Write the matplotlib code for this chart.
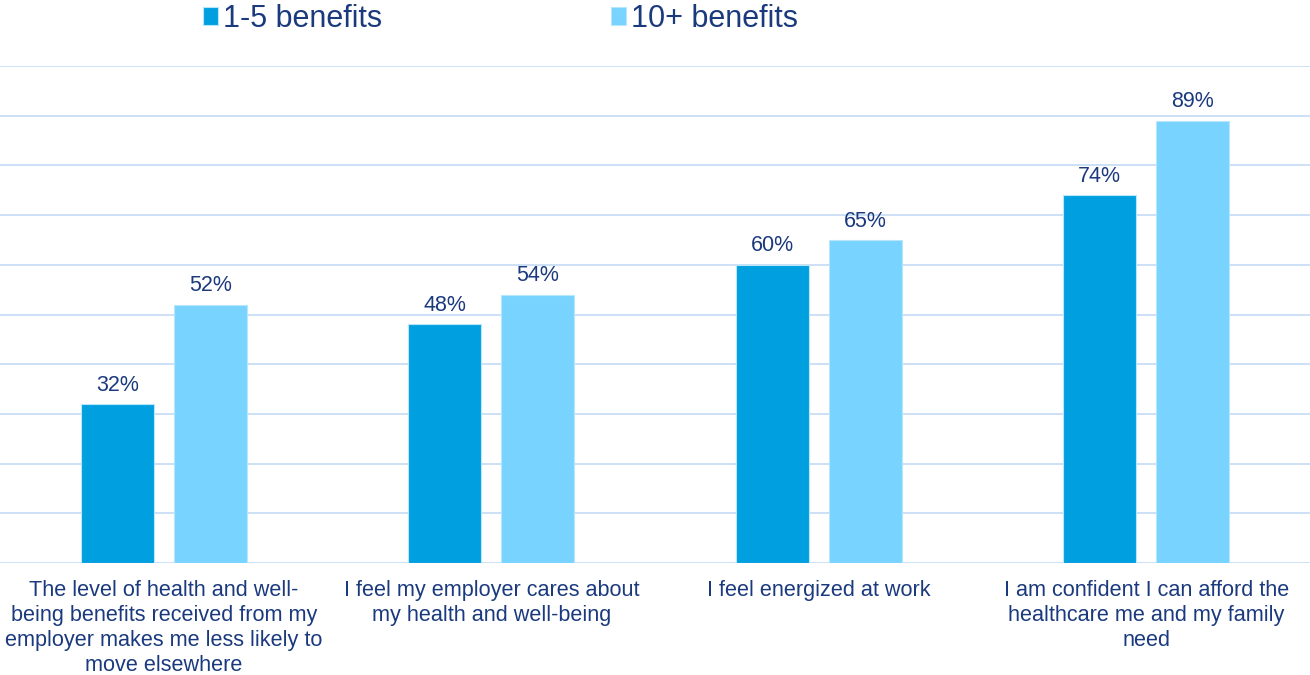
import matplotlib
matplotlib.use("Agg")
import matplotlib.pyplot as plt
import numpy as np

categories = [
    "The level of health and well-\nbeing benefits received from my\nemployer makes me less likely to\nmove elsewhere",
    "I feel my employer cares about\nmy health and well-being",
    "I feel energized at work",
    "I am confident I can afford the\nhealthcare me and my family\nneed",
]
series_names = ["1-5 benefits", "10+ benefits"]
low_benefits = [32, 48, 60, 74]
high_benefits = [52, 54, 65, 89]
value_labels_low = ["32%", "48%", "60%", "74%"]
value_labels_high = ["52%", "54%", "65%", "89%"]

plt.rcParams["font.family"] = ["Liberation Sans", "DejaVu Sans"]
text_color = "#1B3A7E"
colors = ["#009FE0", "#78D3FF"]
grid_color = "#C9DDF5"

fig = plt.figure(figsize=(13.10, 6.75), dpi=100)
ax = fig.add_axes([0.0, (675 - 563) / 675, 1.0, (563 - 66) / 675])

x = np.arange(len(categories))
width = 0.223
offset = 0.142

bars1 = ax.bar(x - offset, low_benefits, width, color=colors[0],
               edgecolor="#B8E6FA", linewidth=0.8, label=series_names[0], zorder=3)
bars2 = ax.bar(x + offset, high_benefits, width, color=colors[1],
               edgecolor="#B8E6FA", linewidth=0.8, label=series_names[1], zorder=3)

for bars, labels in ((bars1, value_labels_low), (bars2, value_labels_high)):
    ax.bar_label(bars, labels=labels, padding=6, fontsize=15.5, color=text_color)

ax.set_xlim(-0.5, len(categories) - 0.5)
ax.set_ylim(0, 100)
ax.set_yticks(np.arange(0, 101, 10))
ax.yaxis.grid(True, color=grid_color, linewidth=1.3, zorder=0)
ax.set_axisbelow(True)
ax.tick_params(axis="y", left=False, labelleft=False)
ax.tick_params(axis="x", bottom=False, pad=8.5)
ax.set_xticks(x)
ax.set_xticklabels(categories, fontsize=15.6, color=text_color, linespacing=1.26, va="top")
for s in ax.spines.values():
    s.set_visible(False)

# legend along the top
fig.legend(handles=[bars1, bars2], labels=series_names, loc="upper left",
           bbox_to_anchor=(0.155, 0.994), ncol=2, frameon=False, borderpad=0,
           borderaxespad=0, fontsize=22, labelcolor=text_color,
           handlelength=0.5, handleheight=0.5, handletextpad=0.15,
           columnspacing=7.5)

fig.savefig("out.png", dpi=100)
